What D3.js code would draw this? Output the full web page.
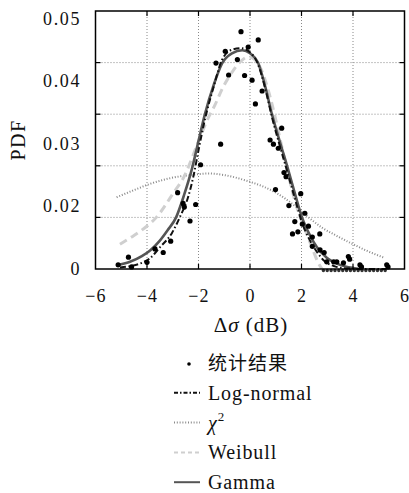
<!DOCTYPE html>
<html>
<head>
<meta charset="utf-8">
<script src="https://cdn.jsdelivr.net/npm/d3@7/dist/d3.min.js"></script>
<style>
  html, body { margin: 0; padding: 0; background: #fff; }
  svg { display: block; }
  svg text { font-family: "Liberation Serif" !important; }
  svg text.cjk { font-family: "Noto Sans CJK SC" !important; }
</style>
</head>
<body>
<svg id="chart" width="409" height="493"></svg>
<script>
// ---------- data ----------
const xTickLabels = [-6, -4, -2, 0, 2, 4, 6];
const xGridValues = [-4, -2, 0, 2, 4];
const yGridValues = [0.01, 0.02, 0.03, 0.04];
const yTickLabels = ["0", "0.02", "0.03", "0.04", "0.05"];

// statistical result (scatter)
const statX = [-5.12, -4.72, -4.6, -4.0, -3.69, -3.37, -3.08, -2.81, -2.6, -2.55, -2.33, -2.11, -1.92,
  -1.14, -1.32, -0.96, -0.83, -0.49, -0.35, -0.07, 0.32, -0.21, 0.08, 0.47, 0.21,
  1.23, 0.78, 0.91, 1.1, 1.32, 1.4, 0.99, 1.97, 1.51, 2.13, 1.74, 2.03, 2.27, 1.65, 1.86,
  2.71, 2.42, 2.42, 2.72, 2.88, 2.98, 3.25, 3.37, 3.63, 3.82, 3.87, 4.27, 4.33, 5.31, 5.36];
const statY = [0.0008, 0.0023, 0.0004, 0.0013, 0.0039, 0.0032, 0.0054, 0.0148, 0.0127, 0.012, 0.0093, 0.0125, 0.0202,
  0.0242, 0.0399, 0.0422, 0.0376, 0.0406, 0.046, 0.043, 0.0444, 0.0375, 0.0366, 0.0345, 0.032,
  0.0273, 0.025, 0.0242, 0.0234, 0.0187, 0.0179, 0.0154, 0.0146, 0.0123, 0.0108, 0.0092, 0.0087, 0.0083, 0.0068, 0.0072,
  0.0068, 0.0062, 0.0044, 0.0037, 0.0032, 0.0014, 0.0014, 0.0014, 0.0012, 0.0024, 0.0019, 0.0008, 0.0004, 0.0008, 0.0004];
// empty bins (value 0) on the right tail
const zeroBinX = [2.85, 3.0, 3.15, 3.3, 3.45, 3.6, 3.75, 3.9, 4.05, 4.2, 4.35, 4.5, 4.65, 4.8, 4.95, 5.1, 5.25];
const zeroBinY = [0, 0, 0, 0, 0, 0, 0, 0, 0, 0, 0, 0, 0, 0, 0, 0, 0];

// Log-normal fit
const logNormalX = [-5.05, -4.6, -4.2, -3.88, -3.5, -3.04, -2.72, -2.4, -2.2, -2.0, -1.75, -1.4, -1.09, -0.7, -0.35, 0.0, 0.3, 0.6, 0.85, 1.15, 1.44, 1.75, 2.02, 2.3, 2.6, 2.9, 3.3, 3.8, 4.4, 5.3];
const logNormalY = [0.0003, 0.0006, 0.0012, 0.0021, 0.0042, 0.0069, 0.0101, 0.014, 0.0179, 0.023, 0.029, 0.0355, 0.0405, 0.0425, 0.0428, 0.042, 0.0398, 0.0348, 0.0295, 0.024, 0.019, 0.0135, 0.009, 0.0058, 0.0033, 0.0015, 0.0005, 0.0001, 0, 0];

// Chi-square fit
const chi2X = [-5.18, -4.5, -3.88, -3.1, -2.33, -1.6, -1.0, -0.13, 0.5, 1.04, 1.7, 2.3, 2.8, 3.3, 4.0, 4.6, 5.2];
const chi2Y = [0.0139, 0.0153, 0.0165, 0.0176, 0.0182, 0.0185, 0.0182, 0.0171, 0.016, 0.0147, 0.0124, 0.0099, 0.008, 0.0066, 0.0048, 0.0034, 0.0022];

// Weibull fit
const weibullX = [-5.05, -4.6, -4.27, -3.62, -2.98, -2.52, -2.2, -1.94, -1.65, -1.36, -1.05, -0.78, -0.39, -0.06, 0.2, 0.45, 0.7, 0.95, 1.2, 1.45, 1.81, 2.14, 2.4, 2.65, 2.8];
const weibullY = [0.0048, 0.0062, 0.0073, 0.0101, 0.0147, 0.0183, 0.0222, 0.0255, 0.029, 0.0318, 0.0352, 0.0375, 0.0401, 0.0411, 0.0405, 0.0385, 0.0348, 0.03, 0.0245, 0.019, 0.0121, 0.0076, 0.0043, 0.0012, 0.0];

// Gamma fit
const gammaX = [-5.1, -4.66, -4.2, -3.88, -3.5, -3.2, -2.87, -2.55, -2.25, -2.0, -1.75, -1.4, -1.09, -0.7, -0.3, 0.0, 0.31, 0.6, 0.85, 1.15, 1.44, 1.75, 2.02, 2.3, 2.6, 2.98, 3.5, 4.0, 4.3];
const gammaY = [0.0008, 0.0014, 0.0025, 0.0036, 0.0055, 0.0075, 0.01, 0.0145, 0.0195, 0.0248, 0.03, 0.0358, 0.0398, 0.0418, 0.0424, 0.0418, 0.04, 0.0352, 0.03, 0.0248, 0.02, 0.0145, 0.01, 0.0068, 0.0042, 0.0022, 0.0008, 0.0002, 0.0];

const legendLabels = ["统计结果", "Log-normal", "χ2", "Weibull", "Gamma"];

// ---------- layout ----------
const svg = d3.select("#chart");
const L = 95.5, R = 404.5, T = 11, B = 269;
const x = d3.scaleLinear().domain([-6, 6]).range([L, R]);
const y = d3.scaleLinear().domain([0, 0.05]).range([B, T]);
const yLab = d3.scalePoint().domain(yTickLabels).range([268, 18]);

const zip = (xs, ys) => xs.map((v, i) => [v, ys[i]]);

// grid
const grid = svg.append("g");
grid.selectAll("line.gx").data(xGridValues).join("line")
  .attr("x1", d => x(d)).attr("x2", d => x(d)).attr("y1", T).attr("y2", B)
  .attr("stroke", "#888").attr("stroke-width", 1).attr("stroke-dasharray", "1,2");
grid.selectAll("line.gy").data(yGridValues).join("line")
  .attr("y1", d => y(d)).attr("y2", d => y(d)).attr("x1", L).attr("x2", R)
  .attr("stroke", "#888").attr("stroke-width", 1).attr("stroke-dasharray", "1,2");

// zero-bin dots along the bottom axis
svg.append("g").selectAll("circle").data(zip(zeroBinX, zeroBinY)).join("circle")
  .attr("cx", d => x(d[0])).attr("cy", d => y(d[1]) + 1.5).attr("r", 1.7).attr("fill", "#333");

// curves
const line = d3.line().x(d => x(d[0])).y(d => y(d[1])).curve(d3.curveMonotoneX);
const curves = [
  { data: zip(chi2X, chi2Y), stroke: "#8a8a8a", width: 2, dash: "1,1.8" },
  { data: zip(weibullX, weibullY), stroke: "#cfcfcf", width: 3, dash: "8,5" },
  { data: zip(gammaX, gammaY), stroke: "#555", width: 2.6, dash: null },
  { data: zip(logNormalX, logNormalY), stroke: "#111", width: 2, dash: "6,2.5,1.5,2.5" }
];
svg.append("g").selectAll("path").data(curves).join("path")
  .attr("d", d => line(d.data))
  .attr("fill", "none")
  .attr("stroke", d => d.stroke)
  .attr("stroke-width", d => d.width)
  .attr("stroke-dasharray", d => d.dash);

// scatter
svg.append("g").selectAll("circle").data(zip(statX, statY)).join("circle")
  .attr("cx", d => x(d[0])).attr("cy", d => y(d[1])).attr("r", 2.6).attr("fill", "#000");

// frame
svg.append("rect").attr("x", L).attr("y", T).attr("width", R - L).attr("height", B - T)
  .attr("fill", "none").attr("stroke", "#000").attr("stroke-width", 1.5);

// inward tick marks on all four sides
const tk = svg.append("g").attr("stroke", "#000").attr("stroke-width", 1.2);
tk.selectAll("line.tb").data(xGridValues).join("line")
  .attr("x1", d => x(d)).attr("x2", d => x(d)).attr("y1", B).attr("y2", B - 5);
tk.selectAll("line.tt").data(xGridValues).join("line")
  .attr("x1", d => x(d)).attr("x2", d => x(d)).attr("y1", T).attr("y2", T + 5);
tk.selectAll("line.tl").data(yGridValues).join("line")
  .attr("y1", d => y(d)).attr("y2", d => y(d)).attr("x1", L).attr("x2", L + 5);
tk.selectAll("line.tr").data(yGridValues).join("line")
  .attr("y1", d => y(d)).attr("y2", d => y(d)).attr("x1", R).attr("x2", R - 5);

// x tick labels
const xAxis = svg.append("g").attr("transform", `translate(0,${B})`)
  .call(d3.axisBottom(x).tickValues(xTickLabels).tickSize(0).tickPadding(20).tickFormat(d3.format("d")));
xAxis.attr("font-family", null).attr("font-size", null);
xAxis.select(".domain").remove();
xAxis.selectAll("text").attr("fill", "#111").style("font-size", "18px").attr("letter-spacing", 1.2);

// y tick labels
const yAxis = svg.append("g").attr("transform", `translate(${L},0)`)
  .call(d3.axisLeft(yLab).tickSize(0).tickPadding(14.5));
yAxis.attr("font-family", null).attr("font-size", null);
yAxis.select(".domain").remove();
yAxis.selectAll("text").attr("fill", "#111").style("font-size", "18px")
  .attr("dy", "0.34em").attr("letter-spacing", 1.6);

// axis titles
const xt = svg.append("text").attr("x", 251).attr("y", 332).attr("text-anchor", "middle")
  .attr("fill", "#111").style("font-size", "21px").attr("letter-spacing", 1);
xt.append("tspan").text("Δ");
xt.append("tspan").attr("font-style", "italic").text("σ");
xt.append("tspan").text(" (dB)");

svg.append("text").attr("transform", "translate(25,140) rotate(-90)")
  .attr("text-anchor", "middle").attr("fill", "#111").style("font-size", "20px")
  .attr("letter-spacing", 1.5).text("PDF");

// legend
const leg = svg.append("g");
const rowY = i => 363 + i * 29.8;
const legendStyles = [null, curves[3], curves[0], curves[1], curves[2]];
legendLabels.forEach((lab, i) => {
  const yy = rowY(i);
  if (i === 0) {
    leg.append("circle").attr("cx", 189).attr("cy", yy + 1).attr("r", 1.8).attr("fill", "#000");
  } else {
    const s = legendStyles[i];
    leg.append("line").attr("x1", 174).attr("x2", 200).attr("y1", yy).attr("y2", yy)
      .attr("stroke", s.stroke).attr("stroke-width", Math.min(s.width, 2))
      .attr("stroke-dasharray", i === 1 ? "4,2,1.5,2" : (i === 3 ? "4,3" : s.dash));
  }
  const t = leg.append("text").attr("x", 208).attr("y", yy + 7).attr("fill", "#111")
    .style("font-size", "20px").attr("letter-spacing", 0.9);
  if (i === 0) {
    t.attr("class", "cjk").style("font-size", "19px").attr("letter-spacing", 1).text(lab);
  } else if (i === 2) {
    t.append("tspan").attr("font-style", "italic").text(lab[0]);
    t.append("tspan").style("font-size", "13px").attr("dy", -9).text(lab[1]);
  } else {
    t.text(lab);
  }
});
</script>
</body>
</html>
